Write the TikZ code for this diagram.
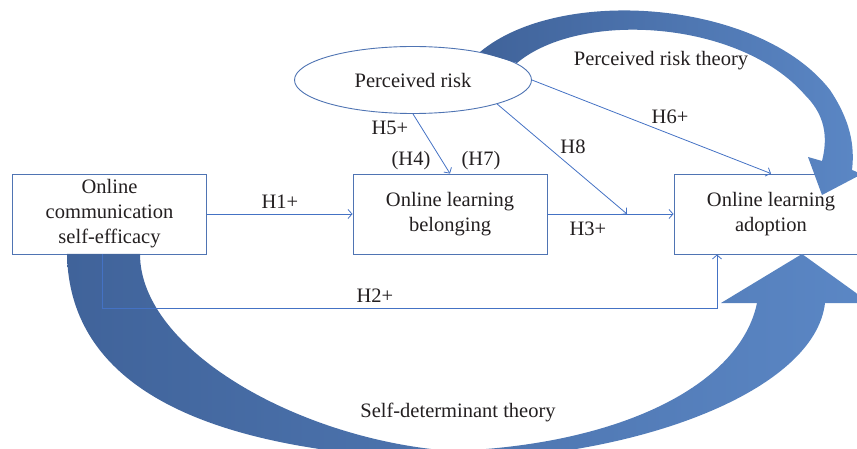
\documentclass[tikz,border=0pt]{standalone}
\usepackage{fontspec}
\setmainfont{Liberation Serif}
\usetikzlibrary{
    arrows.meta,
    positioning,
    shapes.geometric,
    calc
}
\definecolor{linkblue}{HTML}{4472C4}
\definecolor{boxborder}{HTML}{4F74B3}
\definecolor{banddark}{HTML}{40639A}
\definecolor{bandlight}{HTML}{5B87C5}
\definecolor{labeltext}{HTML}{231F20}
\tikzset{
    construct/.style={
        rectangle, draw=boxborder, fill=white,
        line width=0.9pt, minimum width=194pt,
        minimum height=80pt, inner sep=0pt, align=center,
        text=labeltext, font=\fontsize{20.5}{25}\selectfont
    },
    risk ellipse/.style={
        ellipse, draw=boxborder, fill=white,
        line width=0.9pt, minimum width=237pt,
        minimum height=67pt, inner sep=0pt,
        text=labeltext, font=\fontsize{20.5}{25}\selectfont
    },
    hyp link/.style={
        -{Straight Barb[length=4pt,width=9pt]}, draw=linkblue, line width=0.8pt
    },
    hyp label/.style={
        text=labeltext, font=\fontsize{20.5}{25}\selectfont, inner sep=0pt
    },
    theory band/.style={
        left color=banddark, right color=bandlight, draw=none
    },
}

\begin{document}
\begin{tikzpicture}[x=1pt, y=-1pt]
    \useasboundingbox (0,0) rectangle (857,449);
    \clip (0,0) rectangle (857,449);

    \node[construct] (soe) at (109.5,214) {Online\\communication\\self-efficacy};
    \node[construct] (olb) at (450,214) {Online learning\\belonging};
    \node[construct] (ola) at (771,214) {Online learning\\adoption};
    \node[risk ellipse] (risk) at (413,80) {Perceived risk};

    % theory arrows
    \shade[theory band] (67,254) .. controls (70,420) and (280,455) .. (452,460)
        .. controls (640,458) and (815,390) .. (825,303)
        -- (870,303) -- (802,254) -- (721,303) -- (757,303)
        .. controls (740,385) and (620,445) .. (452,451)
        .. controls (300,440) and (140,350) .. (140,254) -- cycle;
    \shade[theory band] (480,52) .. controls (560,-15) and (760,0) .. (830,90)
        .. controls (850,120) and (855,145) .. (852,170)
        -- (862,174) -- (822,195) -- (808,157) -- (822,161)
        .. controls (830,130) and (820,110) .. (805,95)
        .. controls (740,20) and (580,10) .. (517,63) -- cycle;

    \coordinate (h8end) at (627,214);
    \coordinate (h2a) at (102,308);
    \coordinate (h2b) at (717,308);

    \draw[hyp link] (soe.east) -- (olb.west);
    \draw[hyp link] (olb.east) -- (ola.west);
    \draw[hyp link] (risk.south east) -- (h8end);
    \draw[hyp link] (risk.east) -- (ola.north);
    \draw[hyp link] (risk.south) -- (olb.north);
    \draw[hyp link] (soe.south -| h2a) -- (h2a) -- (h2b) -- (ola.south -| h2b);

    % Labels
    \node[hyp label] (l1) at (280,202) {H1+};
    \node[hyp label] (l3) at (588,229) {H3+};
    \node[hyp label] (l8) at (573,147) {H8};
    \node[hyp label] (l6) at (670,117) {H6+};
    \node[hyp label] (l5) at (390,128) {H5+};
    \node[hyp label] (l4) at (411,161) {(H4)};
    \node[hyp label] (l7) at (481,161) {(H7)};
    \node[hyp label] (l2) at (375,296) {H2+};
    \node[hyp label] (prt) at (661,61) {Perceived risk theory};
    \node[hyp label] (sdt) at (458,412) {Self-determinant theory};
\end{tikzpicture}
\end{document}
